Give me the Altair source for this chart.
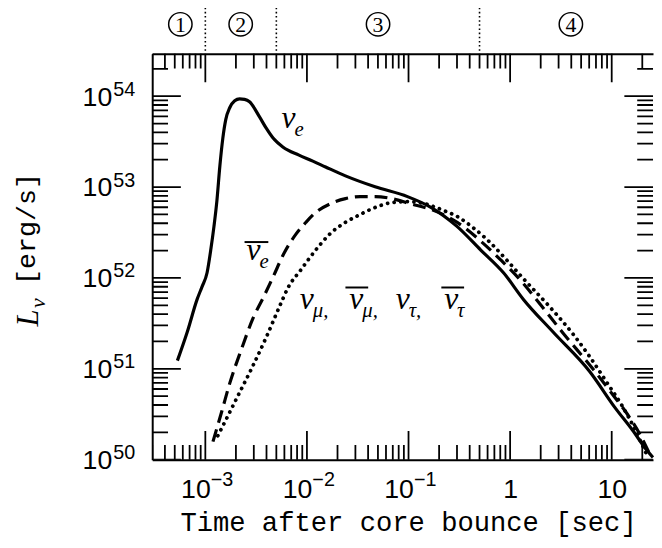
import altair as alt
import pandas as pd

# ---------------- data ----------------
# log10(time after bounce / s) and log10(L / (erg/s))
nue_logt = [-3.275, -3.178, -3.081, -3.032, -2.983, -2.944, -2.915, -2.886, -2.857, -2.828,
            -2.799, -2.760, -2.711, -2.663, -2.614, -2.565, -2.468, -2.399, -2.331, -2.234,
            -2.078, -1.942, -1.816, -1.621, -1.329, -1.010, -0.776, -0.523, -0.289, -0.065,
            0.131, 0.423, 0.783, 1.036, 1.202, 1.348, 1.406]
nue_logL = [51.090, 51.405, 51.764, 51.905, 52.057, 52.329, 52.568, 52.851, 53.232, 53.536,
            53.742, 53.873, 53.949, 53.971, 53.965, 53.938, 53.775, 53.645, 53.536, 53.438,
            53.351, 53.286, 53.221, 53.123, 53.003, 52.895, 52.775, 52.568, 52.307, 52.057,
            51.764, 51.405, 50.971, 50.568, 50.329, 50.101, 50.025]

anue_logt = [-2.925, -2.837, -2.760, -2.643, -2.526, -2.429, -2.332, -2.224, -2.108, -2.010,
             -1.913, -1.767, -1.621, -1.475, -1.329, -1.163, -0.988, -0.776, -0.521, -0.289,
             -0.093, 0.131, 0.296, 0.520, 0.812, 1.007, 1.153, 1.280, 1.367]
anue_logL = [50.199, 50.536, 50.840, 51.221, 51.568, 51.786, 52.014, 52.275, 52.482, 52.612,
             52.721, 52.818, 52.873, 52.895, 52.895, 52.873, 52.818, 52.753, 52.612, 52.405,
             52.199, 51.938, 51.710, 51.395, 51.003, 50.721, 50.503, 50.275, 50.079]

nux_logt = [-2.877, -2.788, -2.691, -2.545, -2.399, -2.273, -2.185, -2.059, -1.913, -1.767,
            -1.621, -1.494, -1.329, -1.163, -1.008, -0.843, -0.678, -0.522, -0.357, -0.191,
            -0.035, 0.131, 0.394, 0.618, 0.783, 0.958, 1.104, 1.221, 1.299, 1.348]
nux_logL = [50.264, 50.460, 50.677, 51.003, 51.351, 51.677, 51.895, 52.090, 52.308, 52.492,
            52.612, 52.688, 52.775, 52.829, 52.840, 52.818, 52.753, 52.677, 52.547, 52.384,
            52.199, 51.992, 51.677, 51.384, 51.134, 50.840, 50.590, 50.351, 50.166, 50.047]

# curve labels: main glyph, subscript, log t (glyph centre), log L (baseline)
lab_main = ["ν", "ν", "ν", "ν", "ν", "ν"]
lab_sub = ["e", "e", "μ,", "μ,", "τ,", "τ"]
lab_logt = [-2.181, -2.526, -2.001, -1.514, -1.057, -0.580]
lab_logL = [53.645, 52.199, 51.655, 51.655, 51.655, 51.655]

# overlines (antineutrino bars): log t start, log t end, log L
bar_logt0 = [-2.614, -1.621, -0.677]
bar_logt1 = [-2.380, -1.397, -0.453]
bar_logL = [52.395, 51.895, 51.895]

# phases
phase_bounds = [1e-3, 5e-3, 0.5]
phase_names = ["1", "2", "3", "4"]
phase_logt = [-3.246, -2.652, -1.300, 0.598]
phase_label_logL = 54.791
phase_rule_logL = [54.50, 55.00]

# axes
x_domain = [3.0e-4, 25.5]
y_domain = [1e50, 10 ** 54.4674]
x_major = [1e-3, 1e-2, 1e-1, 1, 10]
y_major = [1e50, 1e51, 1e52, 1e53, 1e54]
x_minor = [k * 10.0 ** e for e in range(-4, 2) for k in range(2, 10)
           if x_domain[0] <= k * 10.0 ** e <= x_domain[1]]
y_minor = [k * 10.0 ** e for e in range(50, 55) for k in range(2, 10)
           if y_domain[0] <= k * 10.0 ** e <= y_domain[1]]

W, H = 507, 411
MAJ_LEN, MIN_LEN_X, MIN_LEN_Y = 58, 30, 32   # full tick length; half lies inside the frame


def curve(logt, logL):
    return pd.DataFrame({"t": [10 ** v for v in logt], "L": [10 ** v for v in logL]})


xs = alt.Scale(type="log", domain=x_domain, nice=False)
ys = alt.Scale(type="log", domain=y_domain, nice=False)

NUM_FONT = "Liberation Sans"

# ---- axes (labels, titles, frame lines) ----
ax_x_base = alt.Axis(orient="bottom", values=x_major, ticks=False, grid=False,
                     domain=True, domainWidth=2, domainColor="black",
                     labelExpr="datum.value < 0.5 ? '10' : (datum.value < 5 ? '1' : '10')",
                     labelFont=NUM_FONT, labelFontSize=27, labelColor="black",
                     labelBaseline="alphabetic", labelPadding=38,
                     labelAlign={"condition": {"test": "datum.value < 0.5", "value": "right"}, "value": "center"},
                     labelOffset={"condition": {"test": "datum.value < 0.5", "value": 5}, "value": 0},
                     labelFlush=False, labelOverlap=False,
                     title="Time after core bounce [sec]", titleFont="Liberation Mono",
                     titleFontSize=27.5, titleFontWeight="normal", titleColor="black",
                     titleX=259, titleY=72, titleAlign="center", titleBaseline="alphabetic")
ax_x_exp = alt.Axis(orient="bottom", values=[1e-3, 1e-2, 1e-1], ticks=False, grid=False, domain=False,
                    labelExpr="'\u2212' + round(-log(datum.value)/LN10)",
                    labelFont=NUM_FONT, labelFontSize=20, labelColor="black",
                    labelBaseline="alphabetic", labelPadding=26, labelAlign="left", labelOffset=5,
                    labelFlush=False, labelOverlap=False, title=None)
ax_x_top = alt.Axis(orient="top", values=x_major, ticks=False, labels=False, grid=False,
                    domain=True, domainWidth=2, domainColor="black", title=None)

ax_y_base = alt.Axis(orient="left", values=y_major, ticks=False, grid=False,
                     domain=True, domainWidth=2, domainColor="black",
                     labelExpr="'10'", labelFont=NUM_FONT, labelFontSize=27, labelColor="black",
                     labelAlign="right", labelBaseline="alphabetic", labelOffset=9, labelPadding=41,
                     labelFlush=False, labelOverlap=False,
                     title="[erg/s]", titleFont="Liberation Mono", titleFontSize=27,
                     titleFontWeight="normal", titleColor="black", titleAngle=270,
                     titleX=-119, titleY=177, titleAlign="center", titleBaseline="alphabetic")
ax_y_exp = alt.Axis(orient="left", values=y_major, ticks=False, grid=False, domain=False,
                    labelExpr="'' + round(log(datum.value)/LN10)",
                    labelFont=NUM_FONT, labelFontSize=20, labelColor="black",
                    labelAlign="left", labelBaseline="alphabetic", labelOffset=-1, labelPadding=40,
                    labelFlush=False, labelOverlap=False, title=None)
ax_y_title_L = alt.Axis(orient="left", labels=False, ticks=False, grid=False, domain=False,
                        title="L", titleFont="Liberation Serif", titleFontStyle="italic",
                        titleFontSize=31, titleFontWeight="normal", titleColor="black",
                        titleAngle=270, titleX=-116, titleY=267, titleAlign="center",
                        titleBaseline="alphabetic")
ax_y_title_nu = alt.Axis(orient="left", labels=False, ticks=False, grid=False, domain=False,
                         title="ν", titleFont="Liberation Serif", titleFontStyle="italic",
                         titleFontSize=22, titleFontWeight="normal", titleColor="black",
                         titleAngle=270, titleX=-109, titleY=252, titleAlign="center",
                         titleBaseline="alphabetic")

# ---- curves ----
line_kw = dict(color="black", interpolate="monotone")

solid = alt.Chart(curve(nue_logt, nue_logL)).mark_line(strokeWidth=3.2, **line_kw).encode(
    x=alt.X("t:Q", scale=xs, axis=ax_x_base),
    y=alt.Y("L:Q", scale=ys, axis=ax_y_base))

dashed = alt.Chart(curve(anue_logt, anue_logL)).mark_line(strokeWidth=3.2, strokeDash=[13, 7],
                                                         **line_kw).encode(
    x=alt.X("t:Q", scale=xs, axis=ax_x_exp),
    y=alt.Y("L:Q", scale=ys, axis=ax_y_exp))

dotted = alt.Chart(curve(nux_logt, nux_logL)).mark_line(strokeWidth=3.8, strokeDash=[0.1, 6.6],
                                                       strokeCap="round", **line_kw).encode(
    x=alt.X("t:Q", scale=xs, axis=ax_x_top),
    y=alt.Y("L:Q", scale=ys, axis=ax_y_title_L))

# ---- inward ticks on all four sides ----
xticks_df = pd.DataFrame({"v": x_major + x_minor,
                          "len": [MAJ_LEN] * len(x_major) + [MIN_LEN_X] * len(x_minor)})
yticks_df = pd.DataFrame({"v": y_major + y_minor,
                          "len": [MAJ_LEN] * len(y_major) + [MIN_LEN_Y] * len(y_minor)})

tick_kw = dict(thickness=1.8, color="black", opacity=1, clip=True)


def x_ticks_at(edge_value):
    return alt.Chart(xticks_df).mark_tick(orient="vertical", **tick_kw).encode(
        x=alt.X("v:Q", scale=xs, axis=None),
        y=alt.YDatum(edge_value, type="quantitative", scale=ys, axis=None),
        size=alt.Size("len:Q", scale=None))


def y_ticks_at(edge_value):
    return alt.Chart(yticks_df).mark_tick(orient="horizontal", **tick_kw).encode(
        y=alt.Y("v:Q", scale=ys, axis=None),
        x=alt.XDatum(edge_value, type="quantitative", scale=xs, axis=None),
        size=alt.Size("len:Q", scale=None))


ticks_bottom = x_ticks_at(y_domain[0])
ticks_top = x_ticks_at(y_domain[1])
ticks_left = y_ticks_at(x_domain[0])
ticks_right = y_ticks_at(x_domain[1])

# ---- curve labels ----
labels_df = pd.DataFrame({"main": lab_main, "sub": lab_sub,
                          "t": [10 ** v for v in lab_logt], "L": [10 ** v for v in lab_logL]})

main_text = alt.Chart(labels_df).mark_text(font="Liberation Serif", fontStyle="italic", fontSize=32,
                                           align="center", baseline="alphabetic",
                                           color="black").encode(
    x=alt.X("t:Q", scale=xs, axis=None),
    y=alt.Y("L:Q", scale=ys, axis=ax_y_title_nu),
    text="main:N")

sub_text = alt.Chart(labels_df).mark_text(font="Liberation Serif", fontStyle="italic", fontSize=21,
                                          align="left", baseline="alphabetic", dx=6, dy=8,
                                          color="black").encode(
    x=alt.X("t:Q", scale=xs, axis=None),
    y=alt.Y("L:Q", scale=ys, axis=None),
    text="sub:N")

bars_df = pd.DataFrame({"t0": [10 ** v for v in bar_logt0], "t1": [10 ** v for v in bar_logt1],
                        "L": [10 ** v for v in bar_logL]})
bars = alt.Chart(bars_df).mark_rule(color="black", strokeWidth=2).encode(
    x=alt.X("t0:Q", scale=xs, axis=None), x2="t1:Q",
    y=alt.Y("L:Q", scale=ys, axis=None))

# ---- phases ----
rules_df = pd.DataFrame({"t": phase_bounds,
                         "L0": [10 ** phase_rule_logL[0]] * 3, "L1": [10 ** phase_rule_logL[1]] * 3})
phase_rules = alt.Chart(rules_df).mark_rule(color="black", strokeWidth=1.6, strokeDash=[1.6, 2.6]).encode(
    x=alt.X("t:Q", scale=xs, axis=None),
    y=alt.Y("L0:Q", scale=ys, axis=None), y2="L1:Q")

phase_df = pd.DataFrame({"name": phase_names, "t": [10 ** v for v in phase_logt],
                         "L": [10 ** phase_label_logL] * 4})
phase_circles = alt.Chart(phase_df).mark_point(shape="circle", filled=False, size=560, strokeWidth=1.5,
                                               color="black", opacity=1).encode(
    x=alt.X("t:Q", scale=xs, axis=None),
    y=alt.Y("L:Q", scale=ys, axis=None))
phase_text = alt.Chart(phase_df).mark_text(font="Liberation Serif", fontSize=22, align="center",
                                           baseline="middle", dy=1, color="black").encode(
    x=alt.X("t:Q", scale=xs, axis=None),
    y=alt.Y("L:Q", scale=ys, axis=None),
    text="name:N")

chart = alt.layer(solid, dashed, dotted, ticks_bottom, ticks_top, ticks_left, ticks_right,
                  main_text, sub_text, bars, phase_rules, phase_circles, phase_text).resolve_scale(
    x="shared", y="shared").resolve_axis(x="independent", y="independent").properties(
    width=W, height=H,
    autosize=alt.AutoSizeParams(type="none"),
    padding={"left": 146, "top": 43, "right": 1, "bottom": 78},
    background="white",
).configure_view(stroke=None)

chart.save("out.html", embed_options={"renderer": "svg", "actions": False})
